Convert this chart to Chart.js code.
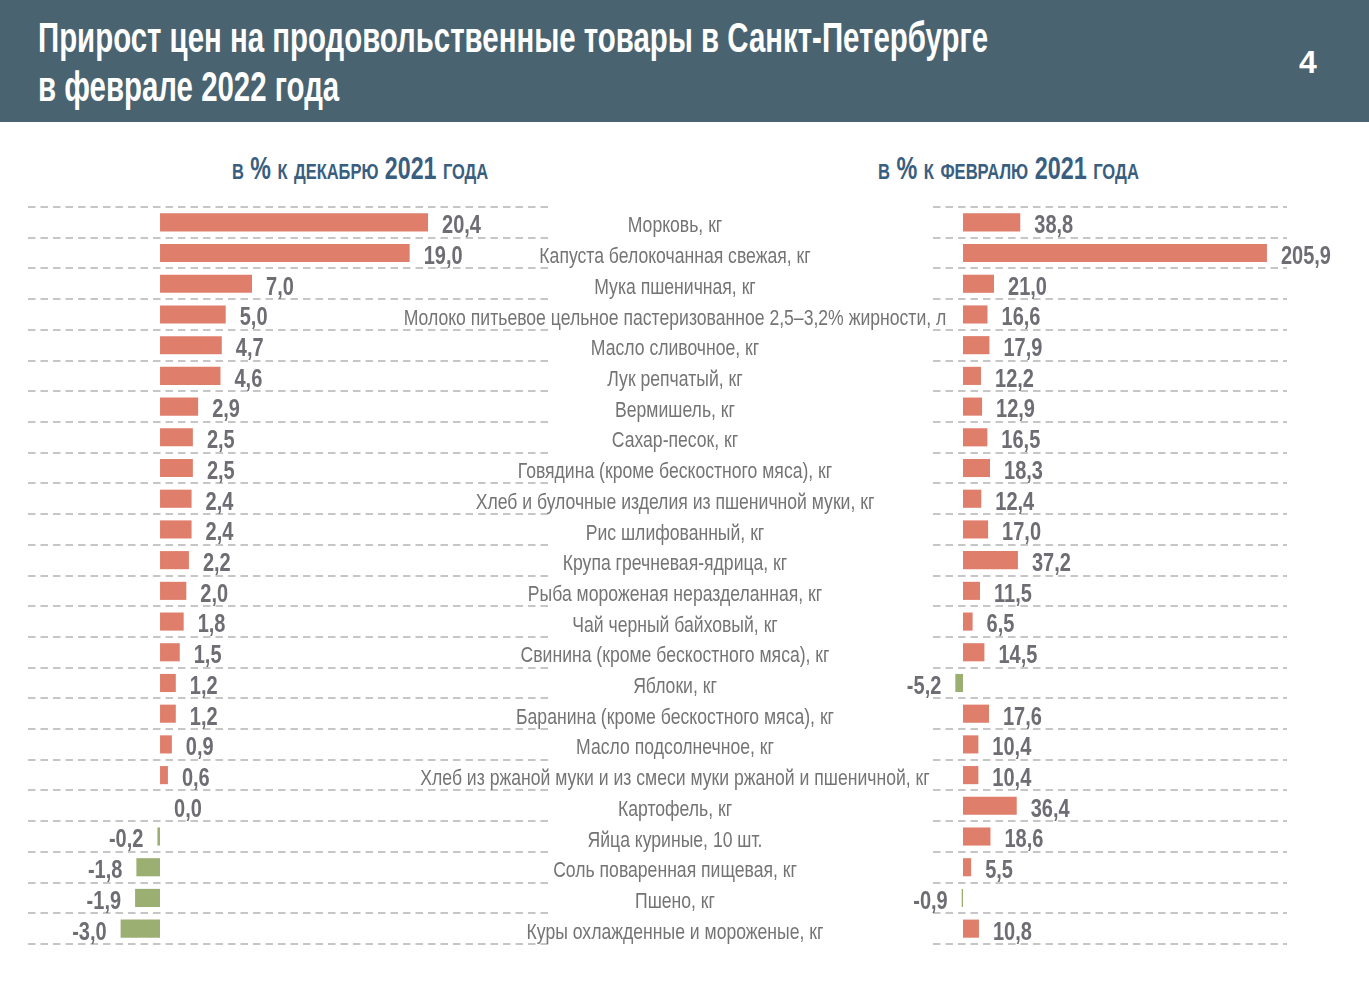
<!DOCTYPE html>
<html>
<head>
<meta charset="utf-8">
<script src="https://cdn.jsdelivr.net/npm/chart.js@4"></script>
<style>
  body { margin: 0; width: 1369px; height: 995px; background: #fff; position: relative; overflow: hidden;
         font-family: "Liberation Sans", Arial, sans-serif; }
  .head { position: absolute; left: 0; top: 0; width: 1369px; height: 122px; background: #496370; }
  .title { position: absolute; left: 38px; top: 13px; color: #fff; font-weight: bold; font-size: 42px;
           line-height: 49px; white-space: nowrap; transform-origin: 0 0; }
  .page { position: absolute; left: 1299px; top: 44px; color: #fff; font-weight: bold; font-size: 32px; }
  .sub { position: absolute; top: 151px; color: #3a5e80; font-weight: bold; font-size: 31px; white-space: nowrap;
         font-variant: small-caps; transform-origin: 0 0; }
  canvas { position: absolute; }
</style>
</head>
<body>
<div class="head">
  <div class="title" id="title">Прирост цен на продовольственные товары в Санкт-Петербурге<br>в феврале 2022 года</div>
  <div class="page">4</div>
</div>
<div class="sub" id="subL" style="left:232px">в % к декабрю 2021 года</div>
<div class="sub" id="subR" style="left:878px">в % к февралю 2021 года</div>
<canvas id="left" width="560" height="770" style="left:0;top:190px"></canvas>
<canvas id="right" width="989" height="770" style="left:380px;top:190px"></canvas>
<script>
const categories = [
  'Морковь, кг',
  'Капуста белокочанная свежая, кг',
  'Мука пшеничная, кг',
  'Молоко питьевое цельное пастеризованное 2,5–3,2% жирности, л',
  'Масло сливочное, кг',
  'Лук репчатый, кг',
  'Вермишель, кг',
  'Сахар-песок, кг',
  'Говядина (кроме бескостного мяса), кг',
  'Хлеб и булочные изделия из пшеничной муки, кг',
  'Рис шлифованный, кг',
  'Крупа гречневая-ядрица, кг',
  'Рыба мороженая неразделанная, кг',
  'Чай черный байховый, кг',
  'Свинина (кроме бескостного мяса), кг',
  'Яблоки, кг',
  'Баранина (кроме бескостного мяса), кг',
  'Масло подсолнечное, кг',
  'Хлеб из ржаной муки и из смеси муки ржаной и пшеничной, кг',
  'Картофель, кг',
  'Яйца куриные, 10 шт.',
  'Соль поваренная пищевая, кг',
  'Пшено, кг',
  'Куры охлажденные и мороженые, кг'
]
const toDec2021 = [20.4, 19.0, 7.0, 5.0, 4.7, 4.6, 2.9, 2.5, 2.5, 2.4, 2.4, 2.2, 2.0, 1.8, 1.5, 1.2, 1.2, 0.9, 0.6, 0.0, -0.2, -1.8, -1.9, -3.0]
const toFeb2021 = [38.8, 205.9, 21.0, 16.6, 17.9, 12.2, 12.9, 16.5, 18.3, 12.4, 17.0, 37.2, 11.5, 6.5, 14.5, -5.2, 17.6, 10.4, 10.4, 36.4, 18.6, 5.5, -0.9, 10.8]

const RED = '#e07e6c'
const GREEN = '#9caf72'
const FONT = '"Liberation Sans", Arial, sans-serif'

// squeeze html text to the width it has in the picture (narrow font)
const squeeze = (id, w) => {
  const el = document.getElementById(id)
  el.style.transform = 'scaleX(' + (w / el.scrollWidth) + ')'
}
squeeze('title', 950)
squeeze('subL', 256)
squeeze('subR', 261)

// narrow text on canvas: plain Liberation Sans squeezed sideways
const narrowText = (ctx, txt, x, y, sx) => {
  ctx.save()
  ctx.translate(x, y)
  ctx.scale(sx, 1)
  ctx.fillText(txt, 0, 0)
  ctx.restore()
}

// numbers at the end of each bar, with comma decimals
const valueLabels = {
  id: 'valueLabels',
  afterDatasetsDraw(chart) {
    const ctx = chart.ctx
    const values = chart.data.datasets[0].data
    ctx.save()
    ctx.font = 'bold 25px ' + FONT
    ctx.fillStyle = '#6d6d73'
    ctx.textBaseline = 'middle'
    chart.getDatasetMeta(0).data.forEach((bar, i) => {
      const v = values[i]
      const txt = v.toFixed(1).replace('.', ',')
      if (v < 0) {
        ctx.textAlign = 'right'
        narrowText(ctx, txt, bar.x - 14, bar.y + 4, 0.8)
      } else {
        ctx.textAlign = 'left'
        narrowText(ctx, txt, bar.x + 14, bar.y + 4, 0.8)
      }
    })
    ctx.restore()
  }
}

// product names in the middle column, drawn on the right chart
const nameLabels = {
  id: 'nameLabels',
  afterDraw(chart) {
    const ctx = chart.ctx
    const y = chart.scales.y
    ctx.save()
    ctx.font = '22px ' + FONT
    ctx.fillStyle = '#747474'
    ctx.textAlign = 'center'
    ctx.textBaseline = 'middle'
    chart.data.labels.forEach((name, i) => {
      narrowText(ctx, name, chart.chartArea.left - 258, y.getPixelForValue(i) + 4, 0.8)
    })
    ctx.restore()
  }
}

const makeChart = (id, values, min, max, padding) => {
  return new Chart(document.getElementById(id), {
    type: 'bar',
    data: {
      labels: categories,
      datasets: [{
        data: values,
        backgroundColor: c => c.raw < 0 ? GREEN : RED,
        borderWidth: 0,
        barPercentage: 0.59,
        categoryPercentage: 1
      }]
    },
    options: {
      indexAxis: 'y',
      responsive: false,
      animation: false,
      devicePixelRatio: 1,
      layout: { padding: padding },
      plugins: { legend: { display: false }, tooltip: { enabled: false } },
      scales: {
        x: { display: false, min: min, max: max },
        y: {
          ticks: { display: false },
          grid: { color: '#c6c6c6', lineWidth: 2, drawTicks: false },
          border: { display: false, dash: [7.5, 5] },
          afterFit: s => { s.width = 0 }
        }
      }
    },
    plugins: id == 'right' ? [valueLabels, nameLabels] : [valueLabels]
  })
}

makeChart('left', toDec2021, -10.05, 29.53, { left: 28, right: 12, top: 17, bottom: 16 })
makeChart('right', toFeb2021, -20.33, 219.5, { left: 553, right: 82, top: 17, bottom: 16 })
</script>
</body>
</html>
